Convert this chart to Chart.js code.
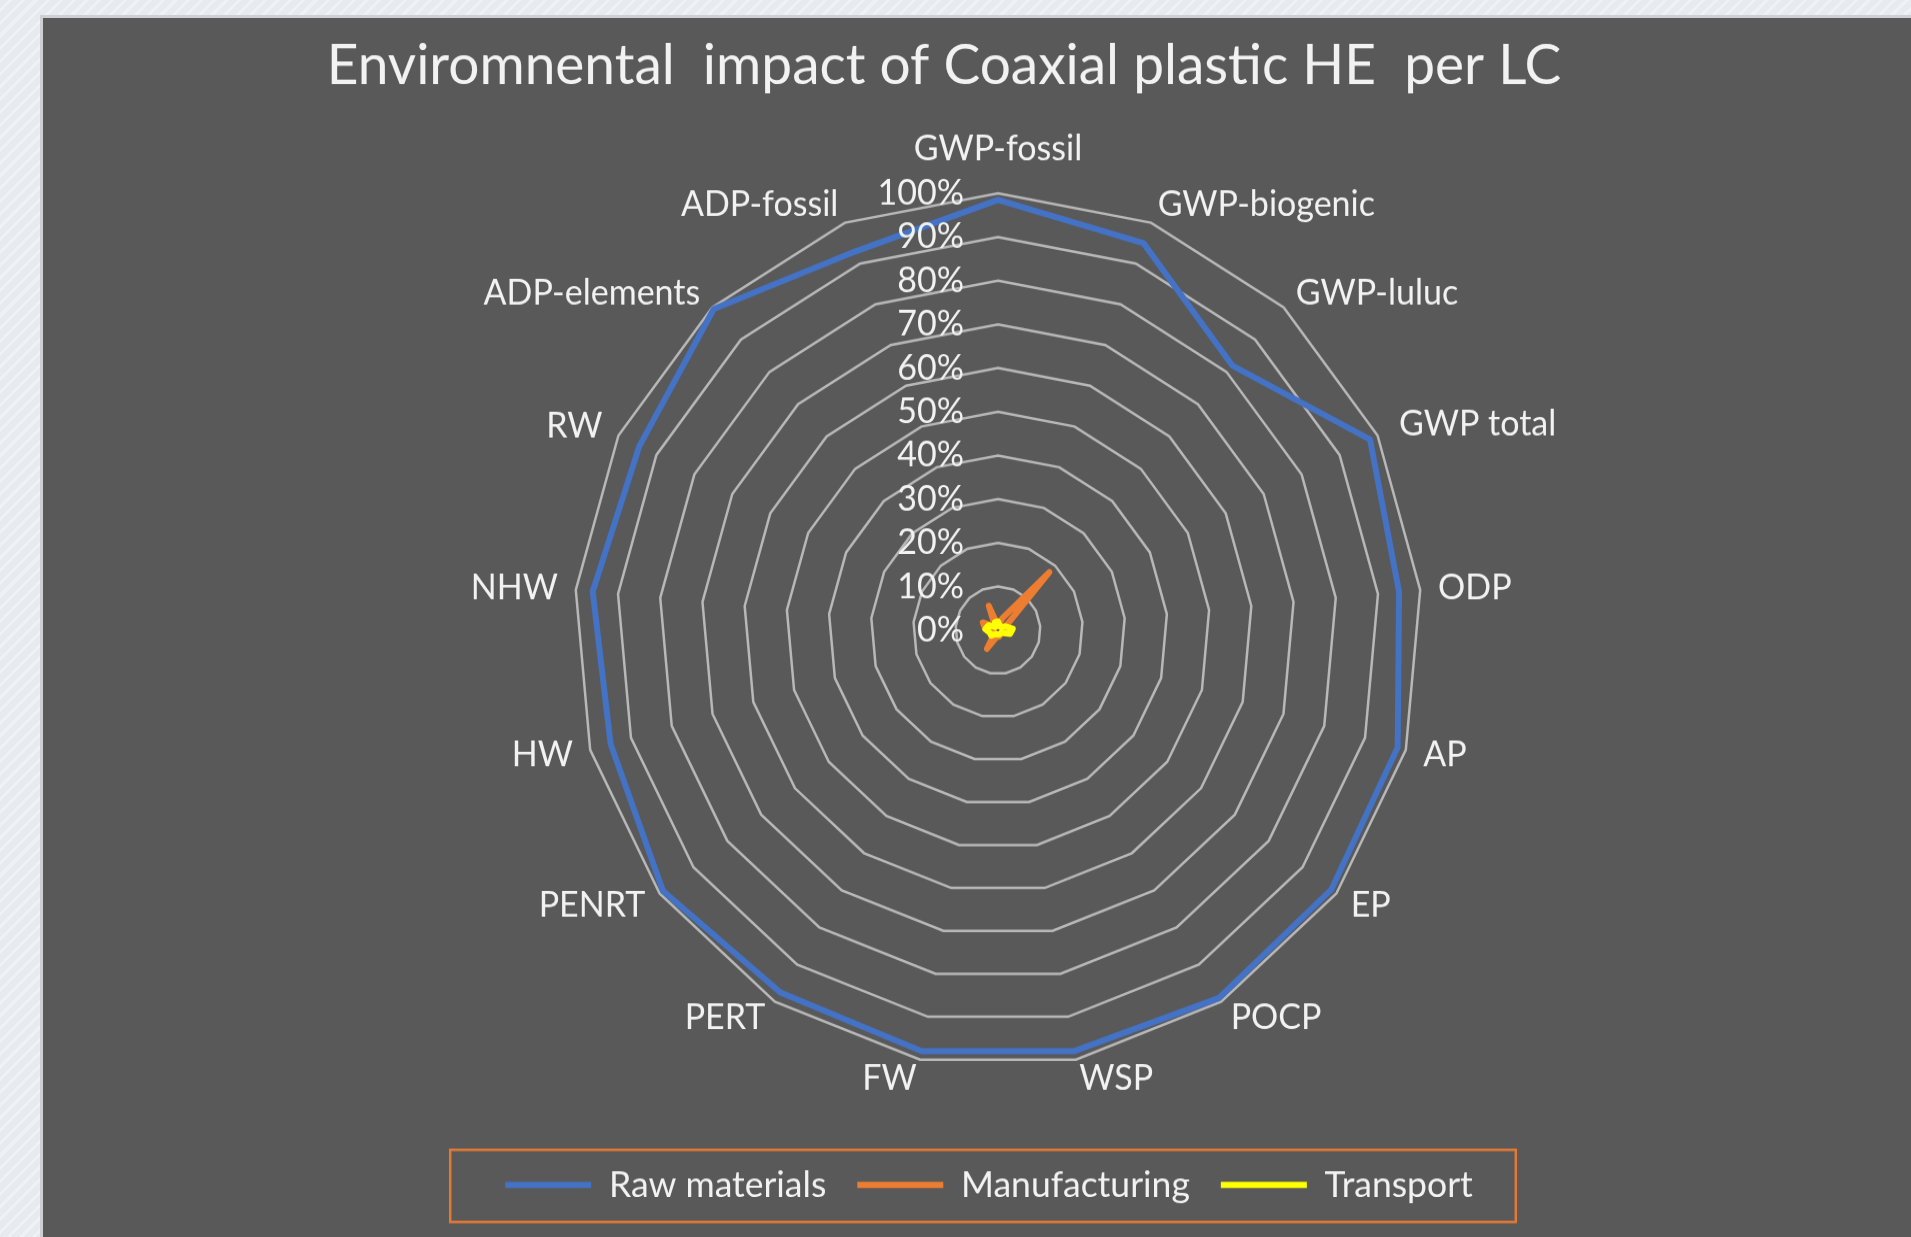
<!DOCTYPE html>
<html>
<head>
<meta charset="utf-8">
<script src="https://cdn.jsdelivr.net/npm/chart.js@4.4.1/dist/chart.umd.min.js"></script>
<style>
    html, body {
        margin: 0;
        padding: 0;
        width: 1911px;
        height: 1237px;
        overflow: hidden;
        background: repeating-linear-gradient(135deg, #e7ebf0 0px, #e7ebf0 6px, #eef1f5 6px, #eef1f5 9px);
    }
    #pannello {
        position: absolute;
        left: 40px;
        top: 15px;
        width: 1871px;
        height: 1222px;
        background: #595959;
        border-top: 3px solid #cdcfd2;
        border-left: 3px solid #cdcfd2;
        box-sizing: border-box;
    }
    /* il grafico originale e' leggermente stirato in verticale */
    #grafico {
        position: absolute;
        left: 40px;
        top: 15px;
        transform: scaleY(1.0305);
        transform-origin: 0 0;
    }
</style>
</head>
<body>
<div id="pannello"></div>
<canvas id="grafico" width="1871" height="1230"></canvas>
<script>
// Categorie (indicatori di impatto)
const categorie = ['GWP-fossil', 'GWP-biogenic', 'GWP-luluc', 'GWP total', 'ODP', 'AP', 'EP', 'POCP',
    'WSP', 'FW', 'PERT', 'PENRT', 'HW', 'NHW', 'RW', 'ADP-elements', 'ADP-fossil'];

// Quote percentuali per fase del ciclo di vita
const materieRaw = [0.985, 0.95, 0.82, 0.98, 0.95, 0.98, 0.985, 0.99, 0.98, 0.98, 0.975, 0.99, 0.95, 0.96, 0.945, 0.995, 0.93];
const produzione = [0.01, 0.03, 0.18, 0.02, 0.02, 0.01, 0.01, 0.01, 0.015, 0.015, 0.05, 0.01, 0.02, 0.03, 0.04, 0.01, 0.06];
const trasporto = [0.02, 0.01, 0.01, 0.02, 0.035, 0.03, 0.01, 0.01, 0.01, 0.01, 0.01, 0.02, 0.02, 0.03, 0.025, 0.01, 0.02];

// Valori dei tick dell'asse radiale
const valoriTick = [0, 0.1, 0.2, 0.3, 0.4, 0.5, 0.6, 0.7, 0.8, 0.9, 1];

const titolo = 'Enviromnental  impact of Coaxial plastic HE  per LC';
const coloreTesto = '#f2f2f2';
const font = 'Lato';

function percentuale(v) {
    return Math.round(v * 100) + '%';
}

// Titolo disegnato sopra il grafico, spostato a sinistra come nell'originale
const pluginTitolo = {
    id: 'pluginTitolo',
    afterDraw(chart) {
        const scala = chart.scales.r;
        const ctx = chart.ctx;
        ctx.save();
        ctx.font = `55px ${font}`;
        ctx.fillStyle = coloreTesto;
        ctx.textAlign = 'center';
        ctx.textBaseline = 'middle';
        ctx.fillText(titolo, scala.xCenter - 54, 49);
        ctx.restore();
    }
};

// Etichette percentuali a sinistra dell'asse verticale, sopra le linee
const pluginTick = {
    id: 'pluginTick',
    afterDatasetsDraw(chart) {
        const scala = chart.scales.r;
        const ctx = chart.ctx;
        ctx.save();
        ctx.font = `34px ${font}`;
        ctx.fillStyle = coloreTesto;
        ctx.textAlign = 'right';
        ctx.textBaseline = 'middle';
        scala.ticks.forEach(t => {
            const d = scala.getDistanceFromCenterForValue(t.value);
            ctx.fillText(percentuale(t.value), scala.xCenter - 34, scala.yCenter - d);
        });
        ctx.restore();
    }
};

// Cornice arancione intorno alla legenda
const pluginCornice = {
    id: 'pluginCornice',
    afterDraw(chart) {
        const boxes = chart.legend.legendHitBoxes;
        if (!boxes || !boxes.length) return;
        const primo = boxes[0];
        const ultimo = boxes[boxes.length - 1];
        const centroY = primo.top + primo.height / 2;
        const ctx = chart.ctx;
        ctx.save();
        ctx.strokeStyle = '#e07a36';
        ctx.lineWidth = 2.5;
        ctx.strokeRect(primo.left - 55, centroY - 34, (ultimo.left + ultimo.width + 43) - (primo.left - 55), 70);
        ctx.restore();
    }
};

const ctx = document.getElementById('grafico').getContext('2d');

new Chart(ctx, {
    type: 'radar',
    data: {
        labels: categorie,
        datasets: [
            {
                label: 'Raw materials',
                data: materieRaw,
                borderColor: '#4472c4',
                backgroundColor: '#4472c4',
                order: 2
            },
            {
                label: 'Manufacturing',
                data: produzione,
                borderColor: '#ed7d31',
                backgroundColor: '#ed7d31',
                order: 1
            },
            {
                label: 'Transport',
                data: trasporto,
                borderColor: '#ffff00',
                backgroundColor: '#ffff00',
                order: 0
            }
        ]
    },
    options: {
        responsive: false,
        animation: false,
        layout: {
            padding: { left: 27, right: 0, top: 0, bottom: 67 }
        },
        elements: {
            line: { borderWidth: 6, fill: false, borderJoinStyle: 'round', borderCapStyle: 'round' },
            point: { radius: 0, hoverRadius: 0 }
        },
        scales: {
            r: {
                min: 0,
                max: 1,
                afterSetDimensions: scala => {
                    // centro e raggio come nel grafico di partenza
                    scala.xCenter = 958;
                    scala.yCenter = 597;
                    scala.drawingArea = 424;
                },
                afterBuildTicks: scala => {
                    scala.ticks = valoriTick.map(v => ({ value: v }));
                },
                ticks: { display: false },
                grid: { color: '#b8b8b8', lineWidth: 2.5 },
                angleLines: { display: false },
                pointLabels: {
                    color: coloreTesto,
                    font: { family: font, size: 34, lineHeight: '1px' },
                    padding: c => c.index === 0 ? 42 : (c.index === 3 ? 24 : 18)
                }
            }
        },
        plugins: {
            title: { display: false },
            tooltip: { enabled: false },
            legend: {
                position: 'bottom',
                labels: {
                    color: coloreTesto,
                    font: { family: font, size: 35.5 },
                    boxWidth: 86,
                    boxHeight: 6,
                    padding: 31,
                    sort: (a, b) => a.datasetIndex - b.datasetIndex,
                    generateLabels: chart => Chart.defaults.plugins.legend.labels.generateLabels(chart)
                        .map(item => ({ ...item, lineWidth: 0 }))
                }
            }
        }
    },
    plugins: [pluginTick, pluginTitolo, pluginCornice]
});
</script>
</body>
</html>
